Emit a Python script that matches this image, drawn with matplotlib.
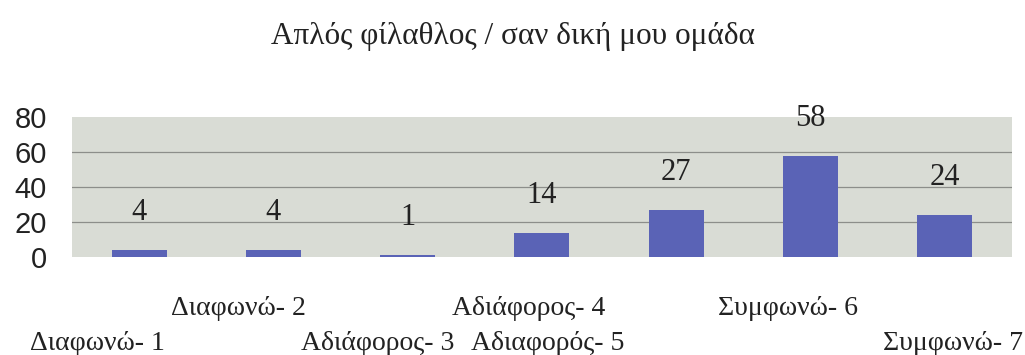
import matplotlib.pyplot as plt

categories = ["Διαφωνώ- 1", "Διαφωνώ- 2", "Αδιάφορος- 3", "Αδιάφορος- 4",
              "Αδιαφορός- 5", "Συμφωνώ- 6", "Συμφωνώ- 7"]
values = [4, 4, 1, 14, 27, 58, 24]
title = "Απλός φίλαθλος / σαν δική μου ομάδα"
yticks = [0, 20, 40, 60, 80]

# where the category labels sit in the source (data x, row)
label_x = [-0.31, 0.74, 1.78, 2.90, 3.04, 4.83, 6.06]
label_row = [1, 0, 1, 0, 1, 0, 1]

SERIF = "Liberation Serif"
SANS = "Liberation Sans"


def main():
    fig = plt.figure(figsize=(10.25, 3.55), dpi=100)
    ax = fig.add_axes([0.0702, 0.276, 0.917, 0.394])
    ax.set_facecolor("#d9dcd5")

    x = range(len(values))
    ax.bar(x, values, width=0.41, color="#5a63b6", zorder=3)
    for xi, v in zip(x, values):
        ax.annotate(str(v), (xi, v), xytext=(0, 27), textcoords="offset points",
                    ha="center", va="center", fontsize=22, family=SERIF, color="#222")

    ax.set_xlim(-0.5, len(values) - 0.5)
    ax.set_ylim(0, 80)
    ax.set_yticks(yticks)
    ax.set_yticklabels([str(t) for t in yticks], family=SANS, fontsize=21, color="#222")
    ax.tick_params(axis="y", length=0, pad=18)
    ax.set_xticks([])
    for y in yticks[1:-1]:
        ax.axhline(y, color="#8c8e8a", lw=0.9, zorder=1)
    for s in ax.spines.values():
        s.set_visible(False)

    for lab, lx, row in zip(categories, label_x, label_row):
        ax.text(lx, -0.365 - 0.25 * row, lab, transform=ax.get_xaxis_transform(),
                ha="center", va="center", fontsize=20, family=SERIF, color="#222")

    fig.text(0.5, 0.897, title, ha="center", va="center", fontsize=22.5,
             family=SERIF, color="#222")

    fig.savefig("out.png", dpi=100)


if __name__ == "__main__":
    main()
